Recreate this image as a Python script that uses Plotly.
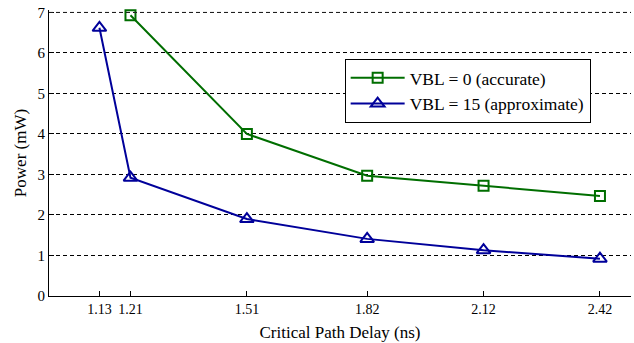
import plotly.graph_objects as go

delay_accurate = [1.21, 1.51, 1.82, 2.12, 2.42]
power_accurate = [6.93, 4.00, 2.97, 2.72, 2.47]
delay_approx = [1.13, 1.21, 1.51, 1.82, 2.12, 2.42]
power_approx = [6.62, 2.92, 1.90, 1.41, 1.13, 0.92]
xtick_vals = [1.13, 1.21, 1.51, 1.82, 2.12, 2.42]
xtick_text = ["1.13", "1.21", "1.51", "1.82", "2.12", "2.42"]
ytick_vals = [0, 1, 2, 3, 4, 5, 6, 7]

FAM = "Liberation Serif"
font = dict(family=FAM, size=14, color="black")
GRID_DASH = "4px,3px"

fig = go.Figure()
fig.add_trace(go.Scatter(
    x=delay_accurate, y=power_accurate, mode="lines+markers",
    name="VBL = 0 (accurate)", cliponaxis=False,
    line=dict(color="#006e00", width=2),
    marker=dict(symbol="square-open", size=10, color="#006e00", line=dict(width=2)),
))
fig.add_trace(go.Scatter(
    x=delay_approx, y=power_approx, mode="lines+markers",
    name="VBL = 15 (approximate)", cliponaxis=False,
    line=dict(color="#00009a", width=2),
    marker=dict(symbol="triangle-up-open", size=12, color="#00009a", line=dict(width=2)),
))

# top gridline at the highest y tick, drawn as a dashed shape across the plot width
fig.add_shape(type="line", xref="paper", x0=0, x1=1, yref="y",
              y0=max(ytick_vals), y1=max(ytick_vals),
              line=dict(color="#222222", width=1, dash=GRID_DASH), layer="above")

fig.update_layout(
    width=634, height=343,
    margin=dict(l=49, r=3, t=10, b=47),
    paper_bgcolor="white", plot_bgcolor="white",
    font=font,
    showlegend=True,
    legend=dict(
        x=0.508, y=0.829, xanchor="left", yanchor="top",
        bgcolor="white", bordercolor="black", borderwidth=1,
        font=dict(family=FAM, size=17.5, color="black"),
        tracegroupgap=0, itemwidth=54,
    ),
    xaxis=dict(
        range=[1.0, 2.5], tickvals=xtick_vals, ticktext=xtick_text,
        ticks="inside", ticklen=5, tickcolor="black",
        showline=True, linecolor="black", linewidth=1,
        showgrid=False, zeroline=False,
        title=dict(text="Critical Path Delay (ns)", font=dict(family=FAM, size=17), standoff=10),
        tickfont=dict(family=FAM, size=14),
    ),
    yaxis=dict(
        range=[0, 7.06], tickvals=ytick_vals,
        ticks="inside", ticklen=5, tickcolor="black",
        showline=True, linecolor="black", linewidth=1,
        showgrid=True, gridcolor="black", griddash=GRID_DASH, gridwidth=1,
        zeroline=False,
        title=dict(text="Power (mW)", font=dict(family=FAM, size=17), standoff=6),
        tickfont=dict(family=FAM, size=15),
    ),
)

fig.write_html("out.html")
